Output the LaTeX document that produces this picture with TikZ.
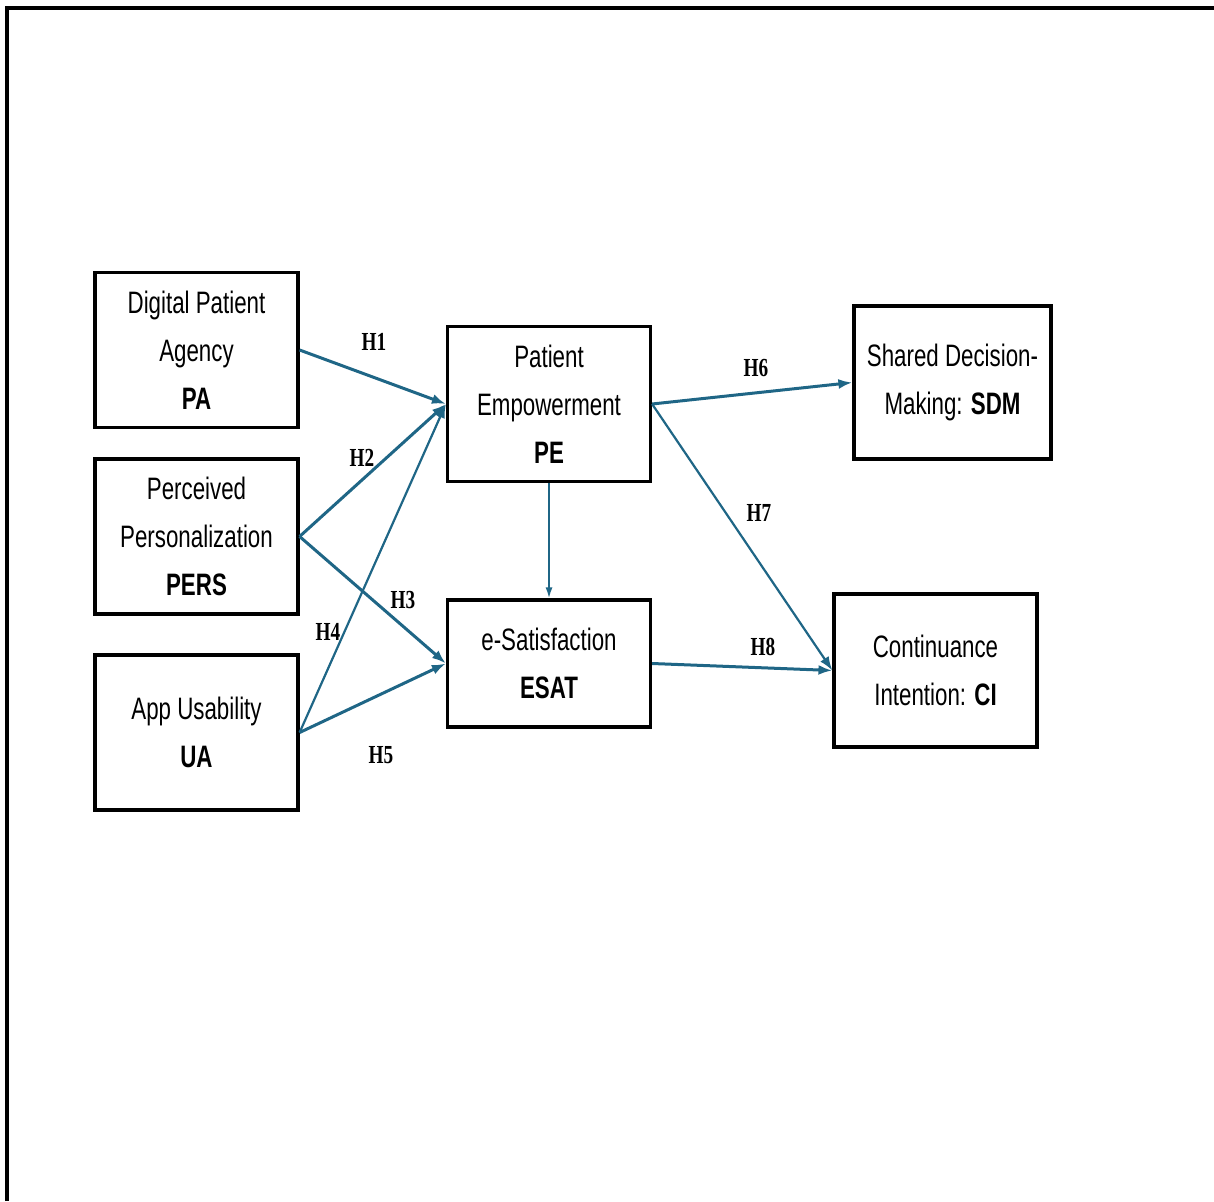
\documentclass[tikz,border=0pt]{standalone}
\usepackage{fontspec}
\newfontfamily\cajafont[FakeStretch=0.72]{Liberation Sans}
\newfontfamily\hipfont[FakeStretch=0.74]{Liberation Serif}
\usetikzlibrary{arrows.meta}
\definecolor{flecha}{RGB}{31,102,134}
\tikzset{
  caja/.style={draw, line width=3.2pt, minimum width=203pt, minimum height=155pt,
    align=center, inner sep=0pt, font=\cajafont\fontsize{31}{48}\selectfont},
  hip/.style={font=\hipfont\bfseries\fontsize{26}{26}\selectfont, inner sep=0pt},
  rel/.style={draw=flecha, line width=3pt, -{Latex[length=14pt,width=10pt]}},
}
\begin{document}
\begin{tikzpicture}[x=1pt, y=-1pt]
\useasboundingbox (0,0) rectangle (1214,1201);

% Marco
\draw[line width=3.2pt] (7,1201) -- (7,8) -- (1214,8);

% Constructos
\node[caja] (PA) at (196.5,350) {Digital Patient\\Agency\\\textbf{PA}};
\node[caja] (PERS) at (196.5,536.5) {Perceived\\Personalization\\\textbf{PERS}};
\node[caja] (UA) at (196.5,732.5) {App Usability\\\textbf{UA}};
\node[caja] (PE) at (549,404) {Patient\\Empowerment\\\textbf{PE}};
\node[caja, minimum height=127pt] (ESAT) at (549,663.5) {e-Satisfaction\\\textbf{ESAT}};
\node[caja, minimum width=197pt, minimum height=153pt] (SDM) at (952.5,382.5) {Shared Decision-\\Making: \textbf{SDM}};
\node[caja, minimum height=153pt] (CI) at (935.5,670.5) {Continuance\\Intention: \textbf{CI}};

% Hipotesis
\draw[rel] (PA.east) -- (PE.west);
\draw[rel] (PERS.east) -- (PE.west);
\draw[rel, line width=2.2pt] (UA.east) -- (PE.west);
\draw[rel] (PERS.east) -- (ESAT.west);
\draw[rel] (UA.east) -- (ESAT.west);
\draw[rel, line width=1.8pt, -{Latex[length=11pt,width=7pt]}] (PE.south) -- (ESAT.north);
\draw[rel] (PE.east) -- (SDM.west);
\draw[rel, line width=2.2pt] (PE.east) -- (CI.west);
\draw[rel] (ESAT.east) -- (CI.west);

% Etiquetas
\foreach \nombre/\x/\y in {H1/374/342, H2/362/458, H3/403/600, H4/328/632,
    H5/381/755, H6/756/368, H7/759/513, H8/763/647}
  \node[hip] (\nombre) at (\x,\y) {\nombre};
\end{tikzpicture}
\end{document}
